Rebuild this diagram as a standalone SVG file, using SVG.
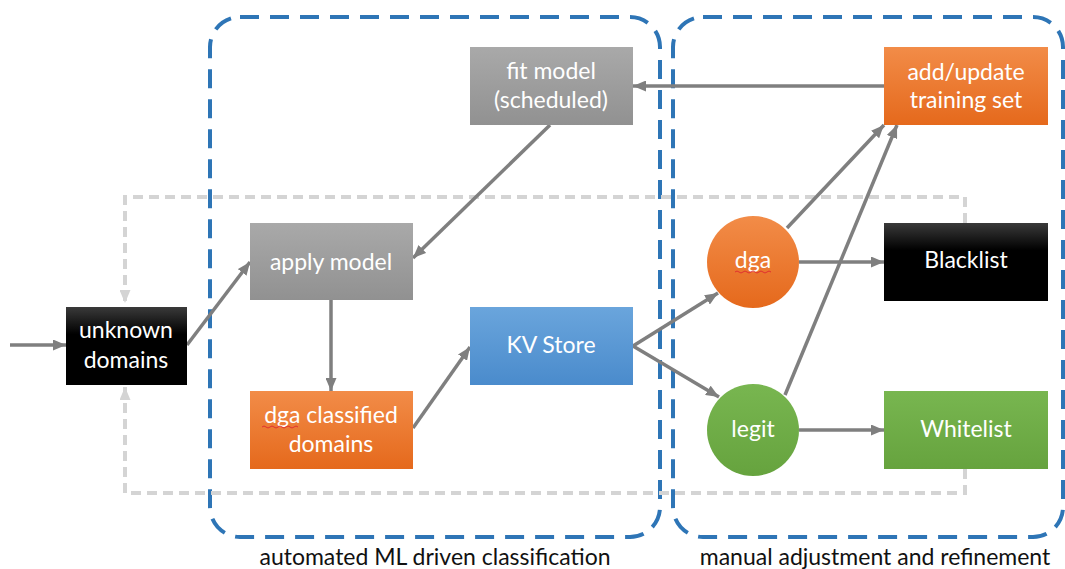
<svg xmlns="http://www.w3.org/2000/svg" width="1065" height="569" viewBox="0 0 1065 569">
<style>
  .lbl { font-family: Lato, "Open Sans", sans-serif; font-size: 23px; fill: #ffffff; text-anchor: middle; }
  .cap { font-family: Lato, "Open Sans", sans-serif; font-size: 23px; fill: #111111; text-anchor: middle; }
  .conn { stroke: #7f7f7f; stroke-width: 3.5; fill: none; marker-end: url(#arr); }
  .loop { stroke: #d4d4d4; stroke-width: 4; fill: none; stroke-dasharray: 10 6; }
  .zone { stroke: #2e75b6; stroke-width: 4; fill: none; stroke-dasharray: 19 11; }
  .squig { stroke: #e03030; stroke-width: 1; fill: none; }
</style>
<defs>
  <marker id="arr" markerUnits="userSpaceOnUse" markerWidth="13" markerHeight="11" refX="13" refY="5.5" orient="auto">
    <path d="M0,0 L13,5.5 L0,11 z" fill="#7f7f7f"/>
  </marker>
  <marker id="arrL" markerUnits="userSpaceOnUse" markerWidth="13" markerHeight="11" refX="13" refY="5.5" orient="auto">
    <path d="M0,0 L13,5.5 L0,11 z" fill="#d4d4d4"/>
  </marker>
  <linearGradient id="gGrey" x1="0" y1="0" x2="0" y2="1">
    <stop offset="0" stop-color="#a9a9a9"/><stop offset="1" stop-color="#919191"/>
  </linearGradient>
  <linearGradient id="gOrange" x1="0" y1="0" x2="0" y2="1">
    <stop offset="0" stop-color="#f28c48"/><stop offset="1" stop-color="#e5691c"/>
  </linearGradient>
  <linearGradient id="gBlue" x1="0" y1="0" x2="0" y2="1">
    <stop offset="0" stop-color="#6aa5dc"/><stop offset="1" stop-color="#4a8bcc"/>
  </linearGradient>
  <linearGradient id="gGreen" x1="0" y1="0" x2="0" y2="1">
    <stop offset="0" stop-color="#78b650"/><stop offset="1" stop-color="#66a33e"/>
  </linearGradient>
  <linearGradient id="gBlack" x1="0" y1="0" x2="0" y2="1">
    <stop offset="0" stop-color="#3a3a3a"/><stop offset="0.35" stop-color="#000000"/><stop offset="1" stop-color="#000000"/>
  </linearGradient>
</defs>

<g id="zones">
  <rect class="zone" x="210" y="17" width="450" height="520" rx="30"/>
  <rect class="zone" x="673" y="17" width="390" height="520" rx="30"/>
</g>

<g id="connectors">
  <path class="loop" d="M965 223 V197 H125 V303" marker-end="url(#arrL)"/>
  <path class="loop" d="M965 469 V493 H125 V387" marker-end="url(#arrL)"/>
  <line class="conn" x1="10" y1="345" x2="66" y2="345"/>
  <line class="conn" x1="187" y1="345" x2="250" y2="262"/>
  <line class="conn" x1="550" y1="125" x2="413" y2="258"/>
  <line class="conn" x1="331" y1="300" x2="331" y2="391"/>
  <line class="conn" x1="413" y1="428" x2="470" y2="347"/>
  <line class="conn" x1="633" y1="346" x2="718" y2="293"/>
  <line class="conn" x1="633" y1="346" x2="719" y2="397"/>
  <line class="conn" x1="799" y1="262" x2="884" y2="262"/>
  <line class="conn" x1="799" y1="430" x2="884" y2="430"/>
  <line class="conn" x1="787" y1="228" x2="884" y2="125"/>
  <line class="conn" x1="785" y1="395" x2="897" y2="125"/>
  <line class="conn" x1="884" y1="86" x2="633" y2="86"/>
</g>

<g id="unknown-domains">
  <rect x="66" y="307" width="121" height="78" fill="url(#gBlack)"/>
  <text class="lbl" x="126" y="338">unknown</text>
  <text class="lbl" x="126" y="368">domains</text>
</g>
<g id="apply-model">
  <rect x="250" y="223" width="163" height="77" fill="url(#gGrey)"/>
  <text class="lbl" x="331" y="270">apply model</text>
</g>
<g id="fit-model">
  <rect x="470" y="47" width="163" height="78" fill="url(#gGrey)"/>
  <text class="lbl" x="551" y="79">fit model</text>
  <text class="lbl" x="551" y="108">(scheduled)</text>
</g>
<g id="dga-classified">
  <rect x="250" y="391" width="163" height="78" fill="url(#gOrange)"/>
  <text class="lbl" x="331" y="423">dga classified</text>
  <text class="lbl" x="331" y="452">domains</text>
  <path class="squig" d="M262 427 q2 -2 4 0 t4 0 t4 0 t4 0 t4 0 t4 0 t4 0 t4 0 t4 0"/>
</g>
<g id="kv-store">
  <rect x="470" y="307" width="163" height="78" fill="url(#gBlue)"/>
  <text class="lbl" x="551" y="353">KV Store</text>
</g>
<g id="add-update">
  <rect x="884" y="47" width="164" height="78" fill="url(#gOrange)"/>
  <text class="lbl" x="966" y="80">add/update</text>
  <text class="lbl" x="966" y="108">training set</text>
</g>
<g id="dga">
  <circle cx="753" cy="262" r="46" fill="url(#gOrange)"/>
  <text class="lbl" x="753" y="268">dga</text>
  <path class="squig" d="M735 272 q2 -2 4 0 t4 0 t4 0 t4 0 t4 0 t4 0 t4 0 t4 0 t4 0"/>
</g>
<g id="blacklist">
  <rect x="884" y="223" width="164" height="78" fill="url(#gBlack)"/>
  <text class="lbl" x="966" y="268">Blacklist</text>
</g>
<g id="legit">
  <circle cx="753" cy="430" r="46" fill="url(#gGreen)"/>
  <text class="lbl" x="753" y="437">legit</text>
</g>
<g id="whitelist">
  <rect x="884" y="391" width="164" height="78" fill="url(#gGreen)"/>
  <text class="lbl" x="966" y="437">Whitelist</text>
</g>

<g id="captions">
  <text class="cap" x="435" y="565">automated ML driven classification</text>
  <text class="cap" x="875" y="565">manual adjustment and refinement</text>
</g>
</svg>
